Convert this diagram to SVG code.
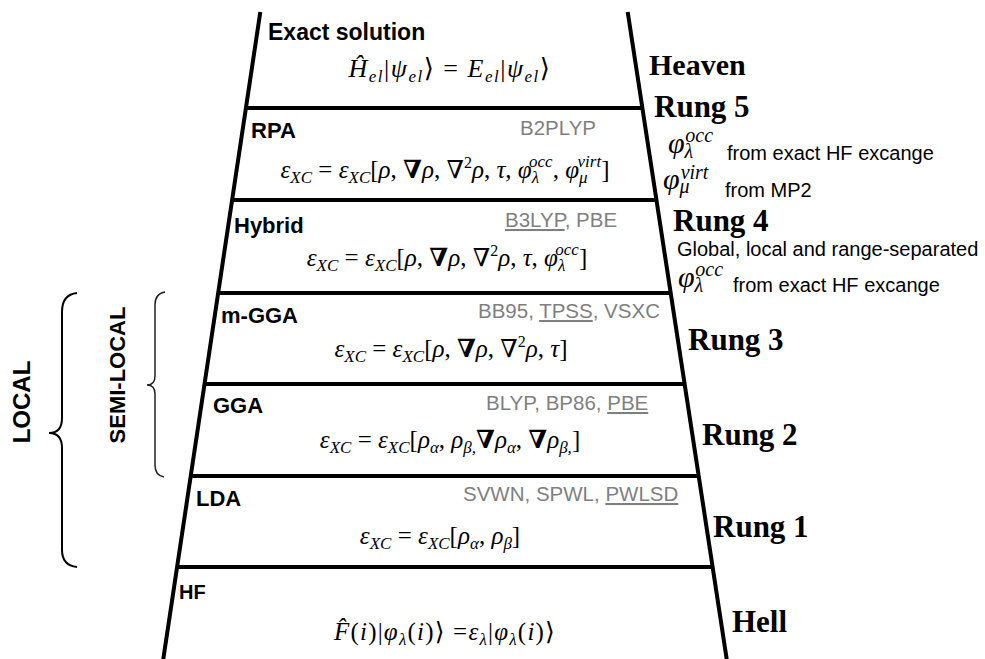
<svg xmlns="http://www.w3.org/2000/svg" width="985" height="659" viewBox="0 0 985 659">
<style>
.rail{stroke:#000;stroke-width:4;fill:none;stroke-linecap:square}
.rung{stroke:#000;stroke-width:4;fill:none}
.lbl{font-family:"Liberation Sans",Arial,sans-serif;font-weight:bold;font-size:22px;fill:#000}
.ex{font-family:"Liberation Sans",Arial,sans-serif;font-size:20.5px;fill:#7f7f7f}
.ul{text-decoration:underline}
.m{font-family:"Liberation Serif","DejaVu Serif",serif;font-style:italic;font-size:25px;fill:#000}
.u{font-style:normal}
.bd{font-style:normal;font-weight:bold}
.sb{font-size:17px}
.sp{font-size:16px;font-style:normal}
.rg{font-family:"Liberation Serif","Times New Roman",serif;font-weight:bold;font-size:31px;fill:#000}
.nt{font-family:"Liberation Sans",Arial,sans-serif;font-size:20px;fill:#000}
.phi{font-family:"Liberation Serif","DejaVu Serif",serif;font-style:italic;font-size:30px;fill:#000}
.phs{font-size:20px}
.brace{fill:none;stroke:#000;stroke-width:2}
.side{font-family:"Liberation Sans",Arial,sans-serif;font-weight:bold;fill:#000}
</style>
<rect width="985" height="659" fill="#fff"/>
<g id="connectors">
<line class="rail" x1="260" y1="14" x2="163" y2="661"/>
<line class="rail" x1="628" y1="14" x2="727" y2="661"/>
<line class="rung" x1="245" y1="108" x2="643" y2="108"/>
<line class="rung" x1="231" y1="200" x2="657" y2="200"/>
<line class="rung" x1="217" y1="293" x2="671" y2="293"/>
<line class="rung" x1="203" y1="384" x2="685" y2="384"/>
<line class="rung" x1="189" y1="476" x2="699" y2="476"/>
<line class="rung" x1="176" y1="567" x2="713" y2="567"/>
</g>
<g id="heaven">
<text class="lbl" x="268" y="40" style="font-size:23px">Exact solution</text>
<text class="m" x="450" y="77" text-anchor="middle" style="font-size:26px;letter-spacing:1.5px">Ĥ<tspan class="sb" dy="5">el</tspan><tspan class="u" dy="-5">|</tspan>ψ<tspan class="sb" dy="5">el</tspan><tspan class="u" dy="-5">⟩  =  </tspan>E<tspan class="sb" dy="5">el</tspan><tspan class="u" dy="-5">|</tspan>ψ<tspan class="sb" dy="5">el</tspan><tspan class="u" dy="-5">⟩</tspan></text>
<text class="rg" x="649" y="75" style="font-size:30px">Heaven</text>
</g>
<g id="rung5">
<text class="lbl" x="251" y="138">RPA</text>
<text class="ex" x="520" y="135">B2PLYP</text>
<text class="m" x="445" y="178" text-anchor="middle">ε<tspan class="sb" dy="5">XC</tspan><tspan class="u" dy="-5"> = </tspan>ε<tspan class="sb" dy="5">XC</tspan><tspan class="u" dy="-5">[</tspan>ρ<tspan class="u">, </tspan><tspan class="bd">∇</tspan>ρ<tspan class="u">, ∇</tspan><tspan class="sp" dy="-10">2</tspan><tspan dy="10">ρ</tspan><tspan class="u">, </tspan>τ<tspan class="u">, </tspan>φ<tspan class="sb" dy="5">λ</tspan><tspan class="sb" dx="-10" dy="-16">occ</tspan><tspan class="u" dy="11">, </tspan>φ<tspan class="sb" dy="5">μ</tspan><tspan class="sb" dx="-10" dy="-16">virt</tspan><tspan class="u" dy="11">]</tspan></text>
<text class="rg" x="654" y="117">Rung 5</text>
<text class="phi" x="668" y="153">φ<tspan class="phs" dy="5">λ</tspan><tspan class="phs" dx="-8" dy="-16">occ</tspan></text>
<text class="nt" x="727" y="160">from exact HF excange</text>
<text class="phi" x="663" y="189">φ<tspan class="phs" dy="4">μ</tspan><tspan class="phs" dx="-9" dy="-14">virt</tspan></text>
<text class="nt" x="725" y="197">from MP2</text>
</g>
<g id="rung4">
<text class="lbl" x="234" y="233">Hybrid</text>
<text class="ex" x="505" y="227"><tspan class="ul">B3LYP</tspan>, PBE</text>
<text class="m" x="447" y="266" text-anchor="middle">ε<tspan class="sb" dy="5">XC</tspan><tspan class="u" dy="-5"> = </tspan>ε<tspan class="sb" dy="5">XC</tspan><tspan class="u" dy="-5">[</tspan>ρ<tspan class="u">, </tspan><tspan class="bd">∇</tspan>ρ<tspan class="u">, ∇</tspan><tspan class="sp" dy="-10">2</tspan><tspan dy="10">ρ</tspan><tspan class="u">, </tspan>τ<tspan class="u">, </tspan>φ<tspan class="sb" dy="5">λ</tspan><tspan class="sb" dx="-10" dy="-16">occ</tspan><tspan class="u" dy="11">]</tspan></text>
<text class="rg" x="673" y="231">Rung 4</text>
<text class="nt" x="677" y="256">Global, local and range-separated</text>
<text class="phi" x="678" y="287">φ<tspan class="phs" dy="5">λ</tspan><tspan class="phs" dx="-8" dy="-16">occ</tspan></text>
<text class="nt" x="733" y="292">from exact HF excange</text>
</g>
<g id="rung3">
<text class="lbl" x="221" y="323">m-GGA</text>
<text class="ex" x="478" y="318">BB95, <tspan class="ul">TPSS</tspan>, VSXC</text>
<text class="m" x="451" y="357" text-anchor="middle">ε<tspan class="sb" dy="5">XC</tspan><tspan class="u" dy="-5"> = </tspan>ε<tspan class="sb" dy="5">XC</tspan><tspan class="u" dy="-5">[</tspan>ρ<tspan class="u">, </tspan><tspan class="bd">∇</tspan>ρ<tspan class="u">, ∇</tspan><tspan class="sp" dy="-10">2</tspan><tspan dy="10">ρ</tspan><tspan class="u">, </tspan>τ<tspan class="u">]</tspan></text>
<text class="rg" x="688" y="350">Rung 3</text>
</g>
<g id="rung2">
<text class="lbl" x="213" y="413">GGA</text>
<text class="ex" x="486" y="410">BLYP, BP86, <tspan class="ul">PBE</tspan></text>
<text class="m" x="450" y="448" text-anchor="middle">ε<tspan class="sb" dy="5">XC</tspan><tspan class="u" dy="-5"> = </tspan>ε<tspan class="sb" dy="5">XC</tspan><tspan class="u" dy="-5">[</tspan>ρ<tspan class="sb" dy="5">α</tspan><tspan class="u" dy="-5">, </tspan>ρ<tspan class="sb" dy="5">β,</tspan><tspan class="bd" dy="-5">∇</tspan>ρ<tspan class="sb" dy="5">α</tspan><tspan class="u" dy="-5">, </tspan><tspan class="bd">∇</tspan>ρ<tspan class="sb" dy="5">β,</tspan><tspan class="u" dy="-5">]</tspan></text>
<text class="rg" x="702" y="445">Rung 2</text>
</g>
<g id="rung1">
<text class="lbl" x="196" y="506">LDA</text>
<text class="ex" x="463" y="501">SVWN, SPWL, <tspan class="ul">PWLSD</tspan></text>
<text class="m" x="440" y="544" text-anchor="middle">ε<tspan class="sb" dy="5">XC</tspan><tspan class="u" dy="-5"> = </tspan>ε<tspan class="sb" dy="5">XC</tspan><tspan class="u" dy="-5">[</tspan>ρ<tspan class="sb" dy="5">α</tspan><tspan class="u" dy="-5">, </tspan>ρ<tspan class="sb" dy="5">β</tspan><tspan class="u" dy="-5">]</tspan></text>
<text class="rg" x="713" y="537">Rung 1</text>
</g>
<g id="hell">
<text class="lbl" x="179" y="599" style="font-size:20px">HF</text>
<text class="m" x="445" y="640" text-anchor="middle" style="letter-spacing:1.2px">F̂<tspan class="u">(</tspan>i<tspan class="u">)|</tspan>φ<tspan class="sb" dy="5">λ</tspan><tspan class="u" dy="-5">(</tspan>i<tspan class="u">)⟩ =</tspan>ε<tspan class="sb" dy="5">λ</tspan><tspan class="u" dy="-5">|</tspan>φ<tspan class="sb" dy="5">λ</tspan><tspan class="u" dy="-5">(</tspan>i<tspan class="u">)⟩</tspan></text>
<text class="rg" x="732" y="632">Hell</text>
</g>
<g id="local">
<path class="brace" d="M77,293 C67,294 62,300 62,312 L62,418 C62,428 57,433 49,433 C57,433 62,438 62,448 L62,550 C62,560 67,566 77,567"/>
<text class="side" font-size="24" text-anchor="middle" transform="translate(30,402) rotate(-90)">LOCAL</text>
</g>
<g id="semi-local">
<path class="brace" style="stroke:#222;stroke-width:1.5" d="M165,292 C158,293 155,297 155,305 L155,376 C155,382 152,385 147,385 C152,385 155,388 155,394 L155,465 C155,472 158,476 164,477"/>
<text class="side" font-size="22" text-anchor="middle" transform="translate(125,375) rotate(-90)">SEMI-LOCAL</text>
</g>
</svg>
